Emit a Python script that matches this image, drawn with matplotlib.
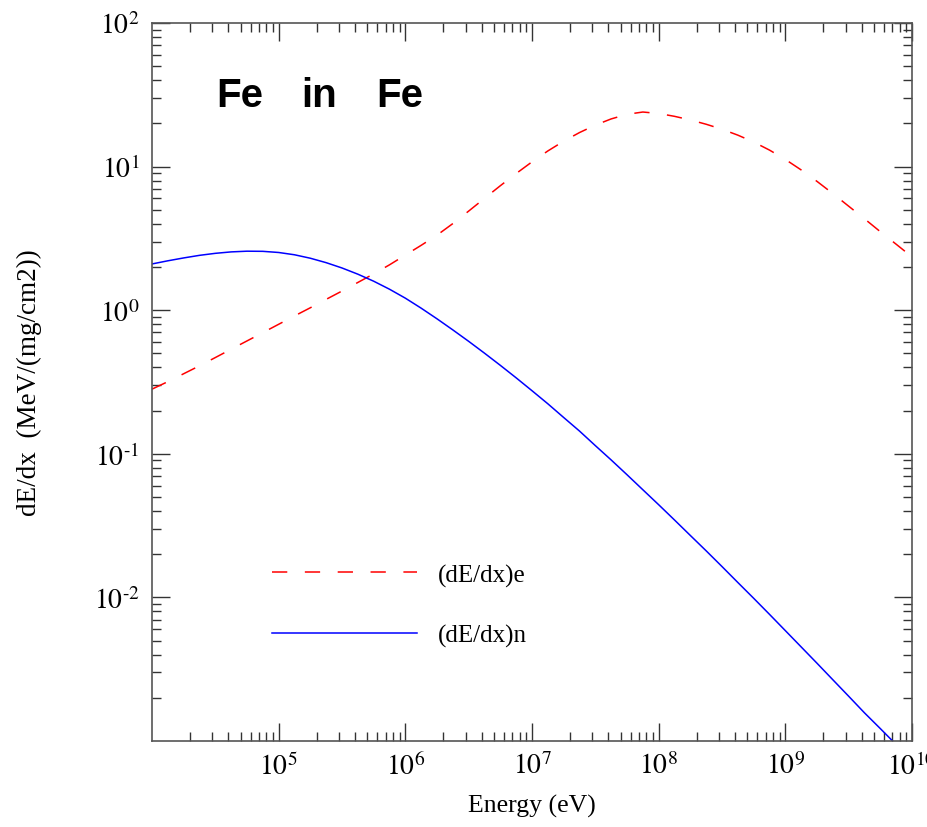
import matplotlib
matplotlib.use("Agg")
import matplotlib.pyplot as plt
import numpy as np

# Energy (eV) sample points, log10
log_energy = [4.0, 4.125, 4.25, 4.375, 4.5, 4.625, 4.75, 4.875,
              5.0, 5.125, 5.25, 5.375, 5.5, 5.625, 5.75, 5.875,
              6.0, 6.125, 6.25, 6.375, 6.5, 6.625, 6.75, 6.875,
              7.0, 7.125, 7.25, 7.375, 7.5, 7.625, 7.75, 7.875,
              8.0, 8.125, 8.25, 8.375, 8.5, 8.625, 8.75, 8.875,
              9.0, 9.125, 9.25, 9.375, 9.5, 9.625, 9.75, 9.875, 10.0]

# electronic stopping (dE/dx)e, MeV/(mg/cm2)
dedx_e = [0.282, 0.318, 0.361, 0.410, 0.468, 0.535, 0.611, 0.698,
          0.798, 0.912, 1.04, 1.19, 1.36, 1.56, 1.79, 2.07,
          2.42, 2.83, 3.33, 4.01, 4.90, 6.01, 7.36, 8.95,
          10.79, 12.85, 15.03, 17.26, 19.45, 21.48, 23.12, 23.99,
          23.44, 22.39, 21.13, 19.72, 18.20, 16.56, 14.83, 13.03,
          11.22, 9.48, 7.89, 6.49, 5.30, 4.33, 3.52, 2.88, 2.35]

# nuclear stopping (dE/dx)n, MeV/(mg/cm2)
dedx_n = [2.099, 2.208, 2.312, 2.410, 2.489, 2.547, 2.576, 2.570,
          2.523, 2.432, 2.301, 2.143, 1.968, 1.782, 1.592, 1.400,
          1.213, 1.033, 0.871, 0.729, 0.607, 0.502, 0.413, 0.338,
          0.275, 0.223, 0.179, 0.144, 0.114, 0.0906, 0.0715, 0.0562,
          0.0442, 0.0346, 0.0270, 0.0211, 0.0164, 0.0127, 0.00986, 0.00762,
          0.00587, 0.00452, 0.00348, 0.00267, 0.00205, 0.00157, 0.00122, 0.000944, 0.000733]

xtick_vals = [1e5, 1e6, 1e7, 1e8, 1e9, 1e10]
xtick_labels = [r"$10^{5}$", r"$10^{6}$", r"$10^{7}$", r"$10^{8}$", r"$10^{9}$", r"$10^{10}$"]
ytick_vals = [1e-2, 1e-1, 1e0, 1e1, 1e2]
ytick_labels = [r"$10^{\text{-}2}$", r"$10^{\text{-}1}$", r"$10^{0}$", r"$10^{1}$", r"$10^{2}$"]

plt.rcParams['mathtext.fontset'] = 'stix'
plt.rcParams['font.family'] = ['Liberation Serif', 'DejaVu Serif']

fig = plt.figure(figsize=(9.28, 8.28), dpi=100)
ax = fig.add_axes([152/928, 1-742/828, (912-152)/928, (742-24)/828])

E = 10.0 ** np.array(log_energy)
ax.plot(E, dedx_e, color='#ff0000', lw=1.1, dashes=(10, 11.5), label='(dE/dx)e')
ax.plot(E, dedx_n, color='#0000ff', lw=1.1, label='(dE/dx)n')

ax.set_xscale('log')
ax.set_yscale('log')
ax.set_xlim(1e4, 1e10)
ax.set_ylim(1e-3, 1e2)

ax.set_xticks(xtick_vals)
ax.set_xticklabels(xtick_labels)
ax.set_yticks(ytick_vals)
ax.set_yticklabels(ytick_labels)
ax.xaxis.set_minor_locator(matplotlib.ticker.LogLocator(base=10, subs=np.arange(2, 10), numticks=20))
ax.yaxis.set_minor_locator(matplotlib.ticker.LogLocator(base=10, subs=np.arange(2, 10), numticks=20))
ax.xaxis.set_minor_formatter(matplotlib.ticker.NullFormatter())
ax.yaxis.set_minor_formatter(matplotlib.ticker.NullFormatter())

for sp in ax.spines.values():
    sp.set_color('#555555')
    sp.set_linewidth(1.2)

ax.tick_params(which='both', direction='in', top=True, right=True, colors='#333333')
ax.tick_params(which='major', length=13, width=1.0, labelsize=20, labelcolor='black')
ax.tick_params(which='minor', length=6.5, width=1.0)
ax.tick_params(axis='x', which='major', pad=8)
ax.tick_params(axis='y', which='major', pad=9)

ax.set_xlabel('Energy (eV)', fontsize=18.5, labelpad=10)
ax.set_ylabel('dE/dx  (MeV/(mg/cm2))', fontsize=19.5)
ax.yaxis.set_label_coords(-0.145, 0.5)

for xt, word in zip([0.084, 0.197, 0.295], ['Fe', 'in', 'Fe']):
    ax.text(xt, 0.9, word, transform=ax.transAxes, fontsize=29,
            fontweight='bold', family=['Liberation Sans', 'DejaVu Sans'], va='center', ha='left')

leg = ax.legend(loc='center left', bbox_to_anchor=(0.158, 0.189), frameon=False,
                fontsize=18, handlelength=5.8, handletextpad=0.85, labelspacing=1.5,
                borderpad=0, borderaxespad=0)

fig.savefig('out.png', dpi=100, facecolor='white')
